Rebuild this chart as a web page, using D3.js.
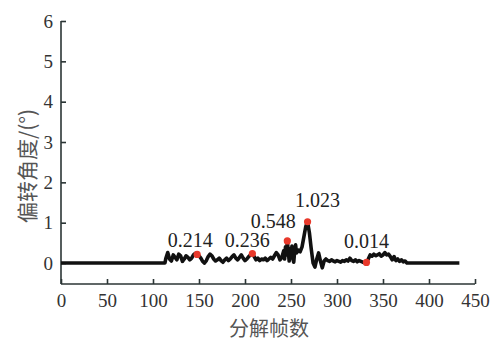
<!DOCTYPE html>
<html>
<head>
<meta charset="utf-8">
<script src="https://cdn.jsdelivr.net/npm/d3@7/dist/d3.min.js"></script>
<style>
  body { margin: 0; background: #fff; }
  svg { display: block; }
</style>
</head>
<body>
<div id="chart"></div>
<script>
// frame index and deflection angle (deg)
const frames = [0, 113, 114, 116, 118, 120, 122, 124, 126, 128, 130, 132, 134, 136, 138, 140, 142, 144, 146, 148,
  150, 152, 154, 156, 158, 160, 162, 164, 166, 168, 170, 172, 174, 176, 178, 180, 182, 184, 186, 188,
  190, 192, 194, 196, 198, 200, 202, 204, 206, 208, 210, 212, 214, 216, 218, 220, 222, 224, 226, 228,
  230, 232, 234, 236, 238, 240, 242, 243, 244, 245, 246, 247, 248, 249, 250, 251, 252, 253, 254, 255,
  256, 258, 260, 262, 264, 266, 268, 270, 272, 274, 276, 278, 280, 282, 284, 286, 288, 290, 292, 294,
  296, 298, 300, 302, 304, 306, 308, 310, 312, 314, 316, 318, 320, 322, 324, 326, 328, 330, 332, 334,
  336, 338, 340, 342, 344, 346, 348, 350, 352, 354, 356, 358, 360, 362, 364, 366, 368, 370, 372, 374,
  376, 433];
const angles = [0, 0, 0.12, 0.26, 0.10, 0.05, 0.20, 0.14, 0.08, 0.22, 0.18, 0.04, 0.10, 0.18, 0.14, 0.08, 0.12, 0.20, 0.24, 0.214,
  0.18, 0.12, 0.04, 0.00, 0.06, 0.16, 0.22, 0.18, 0.10, 0.05, 0.08, 0.12, 0.06, 0.02, 0.08, 0.12, 0.06, 0.10, 0.16, 0.20,
  0.12, 0.08, 0.14, 0.20, 0.12, 0.06, 0.10, 0.16, 0.20, 0.236, 0.16, 0.08, 0.12, 0.06, 0.10, 0.08, 0.12, 0.06, 0.10, 0.14,
  0.10, 0.18, 0.26, 0.20, 0.08, 0.14, 0.30, 0.10, 0.40, 0.20, 0.548, 0.30, 0.05, 0.35, 0.15, 0.42, 0.10, 0.02, 0.30, 0.45,
  0.25, 0.32, 0.28, 0.40, 0.65, 0.90, 1.023, 0.75, 0.35, 0.00, -0.10, 0.10, 0.25, 0.05, -0.12, 0.05, 0.10, 0.06, 0.04, 0.08,
  0.05, 0.03, 0.06, 0.04, 0.02, 0.06, 0.04, 0.08, 0.05, 0.12, 0.06, 0.04, 0.08, 0.03, 0.06, 0.04, 0.02, 0.01, 0.014, 0.10,
  0.20, 0.17, 0.22, 0.18, 0.20, 0.23, 0.17, 0.20, 0.26, 0.20, 0.22, 0.16, 0.08, 0.16, 0.06, 0.10, 0.04, 0.08, 0.03, 0.05,
  0.00, 0];

// highlighted points
const peakFrames = [148, 208, 246, 268, 332];
const peakAngles = [0.214, 0.236, 0.548, 1.023, 0.014];
const peakLabels = ['0.214', '0.236', '0.548', '1.023', '0.014'];

const xTicks = [0, 50, 100, 150, 200, 250, 300, 350, 400, 450];
const yTicks = [0, 1, 2, 3, 4, 5, 6];

const width = 494, height = 341;
const margin = { top: 21, right: 19, bottom: 57, left: 61 };
// nudges of each peak label relative to its point
const labelDx = [-7, -5, -14, 10, 0];
const labelDy = [7, 7, 13, 15, 14];

const svg = d3.select('#chart').append('svg')
  .attr('width', width)
  .attr('height', height);

const x = d3.scaleLinear().domain([0, 450]).range([margin.left, width - margin.right]);
const y = d3.scaleLinear().domain([-0.52, 6]).range([height - margin.bottom, margin.top]);

const axisColor = '#2b3535';
const serif = '"Liberation Serif", "Times New Roman", serif';
const cjk = '"Noto Sans CJK SC", sans-serif';

// x axis (ticks pointing inward)
const gx = svg.append('g')
  .attr('transform', `translate(0,${height - margin.bottom})`)
  .call(d3.axisTop(x).tickValues(xTicks).tickSize(5).tickFormat(''));
gx.selectAll('.tick')
  .append('text')
  .attr('y', 23)
  .attr('text-anchor', 'middle')
  .attr('fill', '#333')
  .attr('font-family', serif)
  .attr('font-size', 19)
  .text(d => d);

// y axis
const gy = svg.append('g')
  .attr('transform', `translate(${margin.left},0)`)
  .call(d3.axisRight(y).tickValues(yTicks).tickSize(5).tickFormat(''));
gy.selectAll('.tick')
  .append('text')
  .attr('x', -8)
  .attr('dy', '0.33em')
  .attr('text-anchor', 'end')
  .attr('fill', '#333')
  .attr('font-family', serif)
  .attr('font-size', 19)
  .text(d => d);

svg.selectAll('.domain, .tick line')
  .attr('stroke', axisColor)
  .attr('stroke-width', 1.6);

// only the left and bottom lines, like the original
gx.select('.domain').attr('d', `M${margin.left},0H${width - margin.right}`);
gy.select('.domain').attr('d', `M0,${margin.top}V${height - margin.bottom}`);

// curve
const line = d3.line()
  .x((d, i) => x(frames[i]))
  .y(d => y(d));

svg.append('path')
  .datum(angles)
  .attr('fill', 'none')
  .attr('stroke', '#111')
  .attr('stroke-width', 3.6)
  .attr('stroke-linejoin', 'round')
  .attr('d', line);

// peaks
svg.append('g')
  .selectAll('circle')
  .data(peakAngles)
  .join('circle')
  .attr('cx', (d, i) => x(peakFrames[i]))
  .attr('cy', d => y(d))
  .attr('r', 3.6)
  .attr('fill', '#e8392b');

svg.append('g')
  .selectAll('text')
  .data(peakLabels)
  .join('text')
  .attr('x', (d, i) => x(peakFrames[i]) + labelDx[i])
  .attr('y', (d, i) => y(peakAngles[i]) - labelDy[i])
  .attr('text-anchor', 'middle')
  .attr('fill', '#222')
  .attr('font-family', serif)
  .attr('font-size', 20)
  .text(d => d);

// axis titles
svg.append('text')
  .attr('x', 269)
  .attr('y', 336)
  .attr('text-anchor', 'middle')
  .attr('fill', '#555')
  .attr('font-family', cjk)
  .attr('font-size', 20)
  .text('分解帧数');

svg.append('text')
  .attr('transform', 'translate(35,166) rotate(-90)')
  .attr('text-anchor', 'middle')
  .attr('fill', '#555')
  .attr('font-family', cjk)
  .attr('font-size', 21)
  .text('偏转角度/(°)');
</script>
</body>
</html>
